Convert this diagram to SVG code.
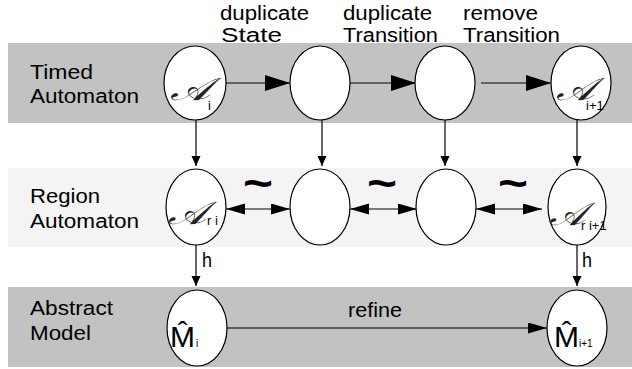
<svg xmlns="http://www.w3.org/2000/svg" width="632" height="369" viewBox="0 0 632 369">
<defs>
<style>
.band1{fill:#c2c2c2}
.band2{fill:#f4f4f4}
.node{fill:#ffffff;stroke:#000;stroke-width:1.2}
.lbl{font-family:"Liberation Sans",Arial,sans-serif;font-size:20px;fill:#000}
.scr{font-family:"DejaVu Serif","Liberation Serif",serif;font-size:32px;font-style:italic;fill:#222}
.sub{font-family:"Liberation Sans",Arial,sans-serif;font-size:13px;fill:#000}
.msub{font-family:"Liberation Sans",Arial,sans-serif;font-size:10px;fill:#000}
.m{font-family:"Liberation Sans",Arial,sans-serif;font-size:30px;fill:#000}
.tl{font-family:"Liberation Sans",Arial,sans-serif;font-size:44px;font-weight:bold;fill:#000}
.ln{stroke:#000;stroke-width:1.2;fill:none}
</style>
<marker id="big" markerUnits="userSpaceOnUse" markerWidth="26" markerHeight="18" refX="25" refY="8" orient="auto">
<path d="M0,0 L25,8 L0,16 Z" fill="#000"/>
</marker>
<marker id="med" markerUnits="userSpaceOnUse" markerWidth="20" markerHeight="12" refX="19" refY="5.5" orient="auto-start-reverse">
<path d="M0,0 L19,5.5 L0,11 Z" fill="#000"/>
</marker>
<marker id="sm" markerUnits="userSpaceOnUse" markerWidth="12" markerHeight="10" refX="10" refY="4.5" orient="auto">
<path d="M0,0 L10,4.5 L0,9 Z" fill="#000"/>
</marker>
</defs>

<rect class="band1" x="8" y="43" width="624" height="80"/>
<rect class="band2" x="8" y="168" width="624" height="79"/>
<rect class="band1" x="8" y="287" width="624" height="80"/>

<g id="row-labels">
<text class="lbl" x="30" y="79" textLength="63" lengthAdjust="spacingAndGlyphs">Timed</text>
<text class="lbl" x="30" y="103" textLength="109" lengthAdjust="spacingAndGlyphs">Automaton</text>
<text class="lbl" x="30" y="203" textLength="70" lengthAdjust="spacingAndGlyphs">Region</text>
<text class="lbl" x="30" y="228" textLength="109" lengthAdjust="spacingAndGlyphs">Automaton</text>
<text class="lbl" x="30" y="315" textLength="83" lengthAdjust="spacingAndGlyphs">Abstract</text>
<text class="lbl" x="30" y="340" textLength="61" lengthAdjust="spacingAndGlyphs">Model</text>
</g>

<g id="op-labels">
<text class="lbl" x="220" y="20" textLength="89" lengthAdjust="spacingAndGlyphs">duplicate</text>
<text class="lbl" x="221" y="42" textLength="61" lengthAdjust="spacingAndGlyphs">State</text>
<text class="lbl" x="343" y="20" textLength="89" lengthAdjust="spacingAndGlyphs">duplicate</text>
<text class="lbl" x="343" y="42" textLength="95" lengthAdjust="spacingAndGlyphs">Transition</text>
<text class="lbl" x="463" y="20" textLength="75" lengthAdjust="spacingAndGlyphs">remove</text>
<text class="lbl" x="463" y="42" textLength="97" lengthAdjust="spacingAndGlyphs">Transition</text>
</g>

<g id="connectors">
<line class="ln" x1="226" y1="83" x2="290" y2="83" marker-end="url(#big)"/>
<line class="ln" x1="350" y1="83" x2="416" y2="83" marker-end="url(#big)"/>
<line class="ln" x1="481" y1="83" x2="551" y2="83" marker-end="url(#big)"/>
<line class="ln" x1="196" y1="120" x2="196" y2="166" marker-end="url(#sm)"/>
<line class="ln" x1="322" y1="120" x2="322" y2="166" marker-end="url(#sm)"/>
<line class="ln" x1="445" y1="120" x2="445" y2="166" marker-end="url(#sm)"/>
<line class="ln" x1="577" y1="120" x2="577" y2="166" marker-end="url(#sm)"/>
<line class="ln" x1="226" y1="209" x2="290" y2="209" marker-start="url(#med)" marker-end="url(#med)"/>
<line class="ln" x1="350" y1="209" x2="417" y2="209" marker-start="url(#med)" marker-end="url(#med)"/>
<line class="ln" x1="476" y1="209" x2="542" y2="209" marker-start="url(#med)" marker-end="url(#med)"/>
<line class="ln" x1="196" y1="245" x2="196" y2="286" marker-end="url(#sm)"/>
<line class="ln" x1="577" y1="245" x2="577" y2="286" marker-end="url(#sm)"/>
<line class="ln" x1="227" y1="328" x2="547" y2="328" marker-end="url(#med)"/>
<text class="tl" x="243" y="198" textLength="30" lengthAdjust="spacingAndGlyphs">~</text>
<text class="tl" x="367" y="198" textLength="30" lengthAdjust="spacingAndGlyphs">~</text>
<text class="tl" x="498" y="198" textLength="30" lengthAdjust="spacingAndGlyphs">~</text>
<text class="lbl" x="202" y="267" textLength="10" lengthAdjust="spacingAndGlyphs">h</text>
<text class="lbl" x="582" y="267" textLength="10" lengthAdjust="spacingAndGlyphs">h</text>
<text class="lbl" x="348" y="317" textLength="54" lengthAdjust="spacingAndGlyphs">refine</text>
</g>

<g id="A_i">
<ellipse class="node" cx="195" cy="83" rx="31" ry="37"/>
<text class="scr" x="170" y="100" textLength="40" lengthAdjust="spacingAndGlyphs">𝒜</text>
<text class="sub" x="208" y="110">i</text>
</g>
<g id="dupState">
<ellipse class="node" cx="320" cy="83" rx="30" ry="37"/>
</g>
<g id="dupTrans">
<ellipse class="node" cx="445" cy="83" rx="30" ry="37"/>
</g>
<g id="A_i1">
<ellipse class="node" cx="581" cy="83" rx="30" ry="37"/>
<text class="scr" x="556" y="100" textLength="38" lengthAdjust="spacingAndGlyphs">𝒜</text>
<text class="sub" x="586" y="110">i+1</text>
</g>

<g id="A_ri">
<ellipse class="node" cx="196" cy="207" rx="30" ry="38"/>
<text class="scr" x="168" y="224" textLength="38" lengthAdjust="spacingAndGlyphs">𝒜</text>
<text class="sub" x="207" y="225">r i</text>
</g>
<g id="R2">
<ellipse class="node" cx="320" cy="207" rx="30" ry="38"/>
</g>
<g id="R3">
<ellipse class="node" cx="446" cy="207" rx="30" ry="38"/>
</g>
<g id="A_ri1">
<ellipse class="node" cx="577" cy="207" rx="29" ry="38"/>
<text class="scr" x="549" y="225" textLength="36" lengthAdjust="spacingAndGlyphs">𝒜</text>
<text class="sub" x="581" y="230">r i+1</text>
</g>

<g id="M_i">
<ellipse class="node" cx="197" cy="328" rx="30" ry="38"/>
<text class="m" x="170" y="347">M̂</text>
<text class="msub" x="196" y="347">i</text>
</g>
<g id="M_i1">
<ellipse class="node" cx="577" cy="328" rx="30" ry="38"/>
<text class="m" x="554" y="347">M̂</text>
<text class="msub" x="579" y="347">i+1</text>
</g>
</svg>
